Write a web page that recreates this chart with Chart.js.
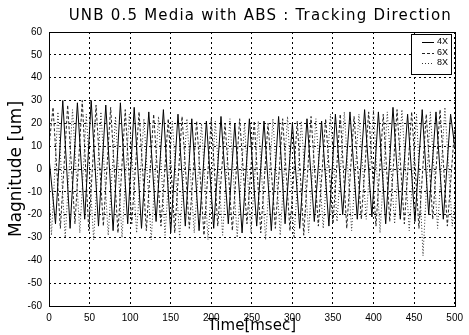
<!DOCTYPE html>
<html lang="en">
<head>
    <meta charset="UTF-8">
    <title>UNB 0.5 Media with ABS : Tracking Direction</title>
    <style>
        html, body { margin: 0; padding: 0; background: #fff; }
        #wrap { width: 469px; height: 335px; position: relative; }
    </style>
    <script src="https://cdn.jsdelivr.net/npm/chart.js"></script>
</head>
<body>
    <div id="wrap"><canvas id="trackChart"></canvas></div>

    <script>
        // values (time in msec, magnitude in um)
        const seriesLabels = ['4X', '6X', '8X'];

        const time4x = [0, 8, 17, 26, 35, 44, 52, 61, 70, 79, 88, 97, 105, 114, 123, 132, 141, 150, 159, 168,
            176, 185, 194, 203, 212, 221, 229, 238, 247, 256, 265, 274, 283, 291, 300, 309, 318, 327, 336, 345,
            353, 362, 371, 380, 389, 398, 406, 415, 424, 433, 442, 451, 460, 468, 477, 486, 495, 500];
        const mag4x = [5, -24, 30, -26, 29, -22, 30, -25, 28, -27, 29, -24, 27, -26, 25, -23, 26, -28, 24, -25,
            22, -27, 21, -26, 23, -24, 20, -28, 22, -25, 21, -27, 23, -24, 20, -26, 22, -23, 21, -25,
            24, -20, 25, -22, 26, -21, 25, -24, 27, -22, 24, -23, 26, -20, 25, -22, 24, 10];

        const time6x = [0, 5, 14, 23, 32, 41, 49, 58, 67, 76, 85, 94, 102, 111, 120, 129, 138, 147, 155, 164,
            173, 182, 191, 200, 208, 217, 226, 235, 244, 253, 261, 270, 279, 288, 297, 306, 314, 323, 332, 341,
            350, 359, 367, 376, 385, 394, 403, 412, 420, 429, 438, 447, 456, 465, 473, 482, 491, 500];
        const mag6x = [10, 27, -26, 28, -24, 30, -27, 28, -25, 27, -28, 26, -24, 25, -27, 24, -25, 22, -28, 23,
            -26, 21, -29, 22, -25, 20, -27, 22, -24, 21, -28, 20, -26, 22, -27, 21, -29, 23, -25, 22,
            -24, 24, -26, 23, -22, 25, -25, 24, -23, 26, -24, 25, -26, 24, -22, 26, -25, 18];

        const time8x = [0, 3, 11, 20, 29, 38, 46, 55, 64, 73, 82, 90, 99, 108, 117, 126, 135, 143, 152, 161,
            170, 179, 188, 196, 205, 214, 223, 232, 241, 249, 258, 267, 276, 285, 294, 302, 311, 320, 329, 338,
            347, 355, 364, 373, 382, 391, 400, 408, 417, 426, 435, 444, 453, 461, 470, 479, 488, 497, 500];
        const mag8x = [-10, -29, 25, -30, 26, -28, 24, -31, 25, -29, 23, -30, 24, -28, 22, -31, 23, -29, 21, -30,
            22, -28, 20, -31, 21, -29, 22, -30, 20, -28, 21, -31, 22, -29, 23, -30, 21, -28, 22, -26,
            24, -23, 25, -27, 24, -22, 26, -28, 25, -24, 26, -27, 24, -38, 25, -26, 27, -25, -15];

        const xTicks = [0, 50, 100, 150, 200, 250, 300, 350, 400, 450, 500];
        const yTicks = [-60, -50, -40, -30, -20, -10, 0, 10, 20, 30, 40, 50, 60];

        function toPoints(xs, ys) {
            return xs.map((x, i) => ({ x: x, y: ys[i] }));
        }

        // the scanned title is wider and centred over the axes, not the canvas
        const titleSpread = {
            id: 'titleSpread',
            afterLayout(chart) {
                const block = chart.titleBlock;
                if (!block || block._spread) return;
                const draw = block.draw.bind(block);
                block.draw = function () {
                    const ctx = chart.ctx;
                    const a = chart.chartArea;
                    ctx.save();
                    ctx.letterSpacing = '1.2px';
                    ctx.translate((a.left + a.right) / 2 - chart.width / 2 + 12, 0);
                    draw();
                    ctx.restore();
                };
                block._spread = true;
            }
        };

        // MATLAB style: solid box round the axes
        const boxPlugin = {
            id: 'axesBox',
            afterDraw(chart) {
                const { ctx, chartArea: a } = chart;
                ctx.save();
                ctx.strokeStyle = '#000';
                ctx.lineWidth = 1;
                ctx.setLineDash([]);
                ctx.strokeRect(Math.round(a.left) + 0.5, Math.round(a.top) + 0.5,
                    Math.round(a.right - a.left), Math.round(a.bottom - a.top));
                ctx.restore();
            }
        };

        // legend box in the upper right corner, inside the axes
        const insideLegend = {
            id: 'insideLegend',
            afterDraw(chart) {
                const { ctx, chartArea: a } = chart;
                const w = 40, h = 40;
                const x0 = Math.round(a.right) - 4 - w;
                const y0 = Math.round(a.top) + 2;
                ctx.save();
                ctx.fillStyle = '#fff';
                ctx.fillRect(x0, y0, w, h);
                ctx.strokeStyle = '#000';
                ctx.lineWidth = 1;
                ctx.setLineDash([]);
                ctx.strokeRect(x0 + 0.5, y0 + 0.5, w, h);
                ctx.font = '9px "Liberation Sans", Arial, sans-serif';
                ctx.fillStyle = '#000';
                ctx.textAlign = 'right';
                ctx.textBaseline = 'middle';
                chart.data.datasets.forEach((ds, i) => {
                    const cy = y0 + 8 + i * 10.5;
                    ctx.beginPath();
                    ctx.strokeStyle = ds.borderColor;
                    ctx.setLineDash(ds.borderDash || []);
                    ctx.moveTo(x0 + 11, Math.round(cy) + 0.5);
                    ctx.lineTo(x0 + 23, Math.round(cy) + 0.5);
                    ctx.stroke();
                    ctx.fillText(ds.label, x0 + w - 3, cy);
                });
                ctx.restore();
            }
        };

        const gridStyle = { color: '#000', lineWidth: 1, drawTicks: false };

        new Chart(document.getElementById('trackChart'), {
            type: 'line',
            data: {
                datasets: [
                    { label: seriesLabels[0], data: toPoints(time4x, mag4x), borderColor: '#000', borderWidth: 1 },
                    { label: seriesLabels[1], data: toPoints(time6x, mag6x), borderColor: '#222', borderWidth: 1, borderDash: [3, 2] },
                    { label: seriesLabels[2], data: toPoints(time8x, mag8x), borderColor: '#333', borderWidth: 1, borderDash: [1, 2] }
                ]
            },
            options: {
                responsive: true,
                maintainAspectRatio: false,
                animation: false,
                elements: { point: { radius: 0 }, line: { tension: 0 } },
                layout: { padding: { left: 0, right: 7, top: 0, bottom: 0 } },
                plugins: {
                    legend: { display: false },
                    tooltip: { enabled: false },
                    title: {
                        display: true,
                        text: 'UNB 0.5 Media with ABS : Tracking Direction',
                        color: '#000',
                        font: { family: '"DejaVu Sans", sans-serif', size: 15, weight: 'normal' },
                        padding: { top: 7, bottom: 7 }
                    }
                },
                scales: {
                    x: {
                        type: 'linear',
                        min: 0,
                        max: 500,
                        afterBuildTicks(scale) { scale.ticks = xTicks.map(v => ({ value: v })); },
                        afterFit(scale) { scale.height = 29; },
                        grid: gridStyle,
                        border: { display: false, dash: [2, 3] },
                        ticks: {
                            color: '#000', padding: 6, maxRotation: 0,
                            font: { family: '"Liberation Sans", Arial, sans-serif', size: 10 }
                        },
                        title: {
                            display: true, text: 'Time[msec]', color: '#000',
                            font: { family: '"DejaVu Sans", sans-serif', size: 15 },
                            padding: { top: 0, bottom: 0 }
                        }
                    },
                    y: {
                        min: -60,
                        max: 60,
                        afterBuildTicks(scale) { scale.ticks = yTicks.map(v => ({ value: v })); },
                        afterFit(scale) { scale.width = 49; },
                        grid: gridStyle,
                        border: { display: false, dash: [2, 3] },
                        ticks: {
                            color: '#000', padding: 7,
                            font: { family: '"Liberation Sans", Arial, sans-serif', size: 10 }
                        },
                        title: {
                            display: true, text: 'Magnitude [um]', color: '#000',
                            font: { family: '"DejaVu Sans", sans-serif', size: 17 },
                            padding: { top: 6, bottom: 0 }
                        }
                    }
                }
            },
            plugins: [titleSpread, boxPlugin, insideLegend]
        });
    </script>
</body>
</html>
